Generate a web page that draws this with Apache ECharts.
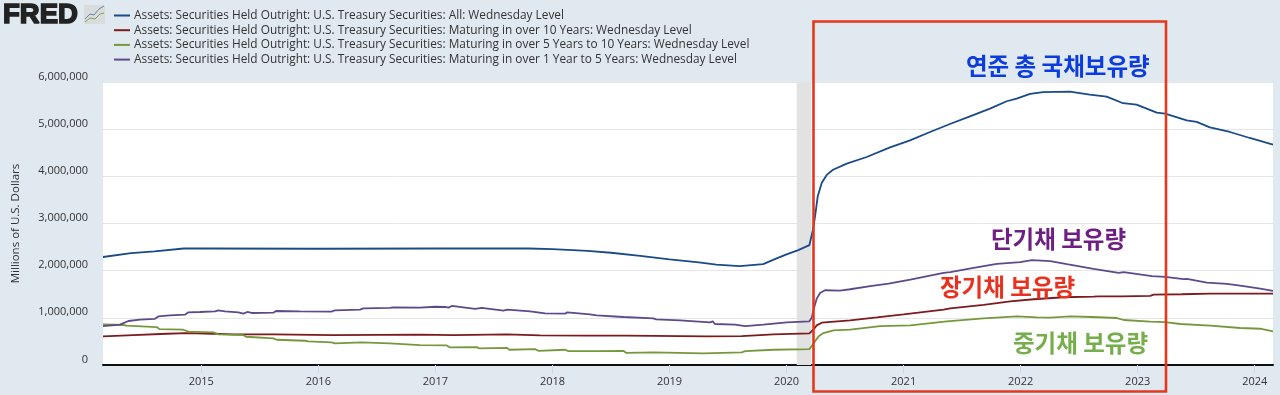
<!DOCTYPE html>
<html>
<head>
<meta charset="utf-8">
<style>
  html, body { margin: 0; padding: 0; background: #e1e9f0; }
  #chart { width: 1280px; height: 395px; }
</style>
<script src="https://cdn.jsdelivr.net/npm/echarts@6/dist/echarts.min.js"></script>
</head>
<body>
<div id="chart"></div>
<script>
var allYears = [2014.16,2014.4,2014.6,2014.85,2015,2016,2017,2017.8,2018,2018.3,2018.5,2018.75,2019,2019.25,2019.4,2019.6,2019.8,2019.9,2020,2020.1,2020.195,2020.224,2020.243,2020.266,2020.3,2020.343,2020.397,2020.514,2020.685,2020.884,2021.055,2021.226,2021.396,2021.567,2021.738,2021.881,2021.966,2022.08,2022.193,2022.42,2022.59,2022.735,2022.875,2022.99,2023.163,2023.234,2023.419,2023.504,2023.617,2023.788,2023.958,2024.156];
var allValues = [2.29,2.37,2.41,2.47,2.47,2.465,2.47,2.47,2.457,2.42,2.38,2.315,2.238,2.175,2.13,2.095,2.138,2.245,2.344,2.436,2.54,2.85,3.14,3.57,3.86,4.03,4.14,4.27,4.41,4.613,4.762,4.94,5.11,5.273,5.436,5.592,5.649,5.749,5.784,5.798,5.734,5.69,5.55,5.52,5.35,5.33,5.187,5.153,5.038,4.94,4.813,4.67];

var longYears = [2014.16,2014.419,2014.704,2014.875,2015.103,2015.273,2015.615,2016.128,2016.868,2017.154,2017.609,2017.894,2018.293,2018.635,2019.318,2019.617,2019.888,2020.195,2020.229,2020.258,2020.3,2020.543,2020.772,2021,2021.342,2021.399,2021.683,2021.911,2022.111,2022.125,2022.367,2022.623,2022.637,2022.666,2022.865,2022.88,2023.107,2023.136,2023.378,2023.62,2024.156];
var longValues = [0.606,0.635,0.663,0.677,0.663,0.649,0.649,0.635,0.642,0.635,0.649,0.628,0.621,0.621,0.606,0.613,0.649,0.67,0.748,0.84,0.897,0.947,1.01,1.074,1.174,1.2,1.273,1.35,1.394,1.415,1.436,1.45,1.472,1.457,1.457,1.47,1.465,1.493,1.5,1.514,1.514];

var midYears = [2014.16,2014.334,2014.362,2014.618,2014.641,2014.846,2014.889,2015.103,2015.145,2015.359,2015.382,2015.615,2015.644,2015.886,2015.914,2016.113,2016.142,2016.37,2016.384,2016.612,2016.626,2016.868,2017.097,2017.125,2017.353,2017.376,2017.609,2017.632,2017.851,2017.88,2018.108,2018.136,2018.364,2018.606,2018.629,2018.862,2019.29,2019.617,2019.646,2019.888,2020.195,2020.229,2020.272,2020.315,2020.4,2020.543,2020.801,2021.057,2021.37,2021.683,2021.968,2022.139,2022.253,2022.424,2022.609,2022.823,2022.88,2023.107,2023.235,2023.364,2023.62,2023.876,2024.047,2024.156];
var midValues = [0.862,0.848,0.833,0.805,0.762,0.748,0.706,0.691,0.649,0.635,0.599,0.564,0.535,0.514,0.5,0.479,0.457,0.479,0.443,0.457,0.429,0.422,0.415,0.372,0.379,0.351,0.365,0.323,0.337,0.301,0.323,0.294,0.294,0.301,0.259,0.266,0.245,0.266,0.294,0.323,0.337,0.45,0.606,0.677,0.733,0.748,0.826,0.84,0.925,0.989,1.032,1.011,1.004,1.032,1.018,0.996,0.954,0.918,0.911,0.869,0.833,0.784,0.769,0.712];

var shortYears = [2014.16,2014.305,2014.376,2014.476,2014.604,2014.633,2014.732,2014.86,2014.889,2014.989,2015.117,2015.145,2015.202,2015.316,2015.359,2015.393,2015.43,2015.615,2015.638,2015.843,2016.113,2016.142,2016.356,2016.384,2016.612,2016.64,2016.868,2017,2017.083,2017.111,2017.14,2017.239,2017.339,2017.396,2017.581,2017.615,2017.809,2017.937,2018.108,2018.128,2018.145,2018.321,2018.378,2018.606,2018.862,2018.885,2019.09,2019.347,2019.369,2019.389,2019.56,2019.646,2019.802,2020.002,2020.195,2020.215,2020.229,2020.258,2020.286,2020.329,2020.457,2020.543,2020.715,2020.872,2021.057,2021.342,2021.399,2021.598,2021.797,2021.997,2022.096,2022.253,2022.395,2022.623,2022.837,2022.88,2023.122,2023.235,2023.392,2023.42,2023.592,2023.762,2023.876,2024.047,2024.156];
var shortValues = [0.826,0.855,0.933,0.96,0.98,1.03,1.053,1.067,1.117,1.124,1.138,1.16,1.138,1.117,1.089,1.124,1.103,1.11,1.145,1.138,1.131,1.16,1.174,1.2,1.21,1.223,1.216,1.235,1.23,1.216,1.252,1.223,1.188,1.21,1.152,1.174,1.138,1.096,1.089,1.117,1.082,1.074,1.053,1.018,0.989,0.968,0.947,0.904,0.926,0.869,0.855,0.826,0.855,0.904,0.926,1,1.16,1.408,1.528,1.585,1.578,1.606,1.67,1.727,1.812,1.954,1.968,2.06,2.145,2.18,2.223,2.202,2.138,2.039,1.954,1.968,1.883,1.869,1.819,1.826,1.748,1.72,1.684,1.62,1.57];

var seriesNames = [
  'Assets: Securities Held Outright: U.S. Treasury Securities: All: Wednesday Level',
  'Assets: Securities Held Outright: U.S. Treasury Securities: Maturing in over 10 Years: Wednesday Level',
  'Assets: Securities Held Outright: U.S. Treasury Securities: Maturing in over 5 Years to 10 Years: Wednesday Level',
  'Assets: Securities Held Outright: U.S. Treasury Securities: Maturing in over 1 Year to 5 Years: Wednesday Level'
];
var seriesColors = ['#1a4a87', '#7d1a1d', '#76983c', '#5d4a8a'];
var yearTicks = [2015, 2016, 2017, 2018, 2019, 2020, 2021, 2022, 2023, 2024];
var recession = [2020.087, 2020.21];
var labelTexts = ['연준 총 국채보유량', '단기채 보유량', '장기채 보유량', '중기채 보유량'];

var FONT = '"Open Sans", sans-serif';
var KR = '"Noto Sans CJK KR", sans-serif';

function pairs(years, values) {
  return years.map(function (y, i) { return [y, values[i] * 1000000]; });
}

function lineSeries(idx, years, values) {
  return {
    name: seriesNames[idx],
    type: 'line',
    showSymbol: false,
    symbol: 'none',
    smooth: false,
    color: seriesColors[idx],
    lineStyle: { width: 1.8, color: seriesColors[idx] },
    data: pairs(years, values),
    z: 3
  };
}

function krLabel(text, x, y, color) {
  return {
    type: 'text', x: x, y: y, z: 20,
    style: { text: text, fill: color, font: 'bold 23.5px ' + KR, textVerticalAlign: 'middle' }
  };
}

var chart = echarts.init(document.getElementById('chart'), null, { renderer: 'canvas' });

var firstSeries = lineSeries(0, allYears, allValues);
firstSeries.markArea = {
  silent: true,
  itemStyle: { color: '#e2e2e2' },
  data: [[{ xAxis: recession[0] }, { xAxis: recession[1] }]]
};

chart.setOption({
  animation: false,
  backgroundColor: '#e1e9f0',
  textStyle: { fontFamily: FONT },
  grid: {
    left: 103, right: 7, top: 82, bottom: 30,
    outerBoundsMode: 'none',
    show: true, backgroundColor: '#ffffff', borderWidth: 0
  },
  legend: {
    orient: 'vertical',
    left: 114, top: 9.5,
    itemWidth: 16, itemHeight: 2, itemGap: 2.7,
    icon: 'rect',
    selectedMode: false,
    padding: 0,
    textStyle: { fontFamily: FONT, fontSize: 11.85, color: '#333333', padding: [0, 0, 0, -1], lineHeight: 12 },
    data: seriesNames
  },
  xAxis: {
    type: 'value',
    min: 2014.16,
    max: 2024.156,
    splitLine: { show: false },
    axisLine: { show: true, onZero: false, lineStyle: { color: '#111111', width: 2 } },
    axisTick: { show: true, length: 8, customValues: yearTicks, lineStyle: { color: '#ccd6eb' } },
    axisLabel: {
      customValues: yearTicks, color: '#333333', fontSize: 11, margin: 11, fontFamily: FONT,
      formatter: function (v) { return String(v); }
    }
  },
  yAxis: {
    type: 'value',
    min: 0, max: 6000000, interval: 1000000,
    name: 'Millions of U.S. Dollars',
    nameLocation: 'middle',
    nameGap: 81,
    nameTextStyle: { color: '#333333', fontSize: 11.5, fontFamily: FONT },
    axisLine: { show: false },
    axisTick: { show: false },
    splitLine: { show: true, lineStyle: { color: '#e6e6e6', width: 1 } },
    axisLabel: {
      color: '#333333', fontSize: 11, margin: 15, fontFamily: FONT,
      verticalAlign: 'bottom',
      formatter: function (v) { return v.toLocaleString('en-US'); }
    }
  },
  series: [
    firstSeries,
    lineSeries(1, longYears, longValues),
    lineSeries(2, midYears, midValues),
    lineSeries(3, shortYears, shortValues)
  ],
  graphic: [
    // FRED logo
    { type: 'text', x: 3, y: 15, z: 20,
      style: { text: 'FRED', fill: '#222222', stroke: '#222222', lineWidth: 1.6, font: 'bold 27.5px "Liberation Sans", sans-serif', textVerticalAlign: 'middle' } },
    { type: 'rect', z: 20, shape: { x: 84, y: 5, width: 21, height: 19 }, style: { fill: '#d9dcdc' } },
    { type: 'polyline', z: 21, shape: { points: [[85, 19], [90, 14], [94, 15], [99, 9], [104, 6]] }, style: { stroke: '#6b86a8', lineWidth: 1, fill: null } },
    { type: 'polyline', z: 21, shape: { points: [[85, 22], [90, 18], [95, 19], [100, 14], [104, 13]] }, style: { stroke: '#85a05a', lineWidth: 1, fill: null } },
    // red box
    { type: 'rect', z: 19, shape: { x: 813.5, y: 21.5, width: 352.5, height: 370 }, style: { fill: null, stroke: '#e8361c', lineWidth: 2.6 } },
    krLabel(labelTexts[0], 966, 66, '#0a3ce0'),
    krLabel(labelTexts[1], 991, 239, '#6f1f83'),
    krLabel(labelTexts[2], 940, 287, '#e8321f'),
    krLabel(labelTexts[3], 1013, 343, '#76ae4c')
  ]
});
</script>
</body>
</html>
